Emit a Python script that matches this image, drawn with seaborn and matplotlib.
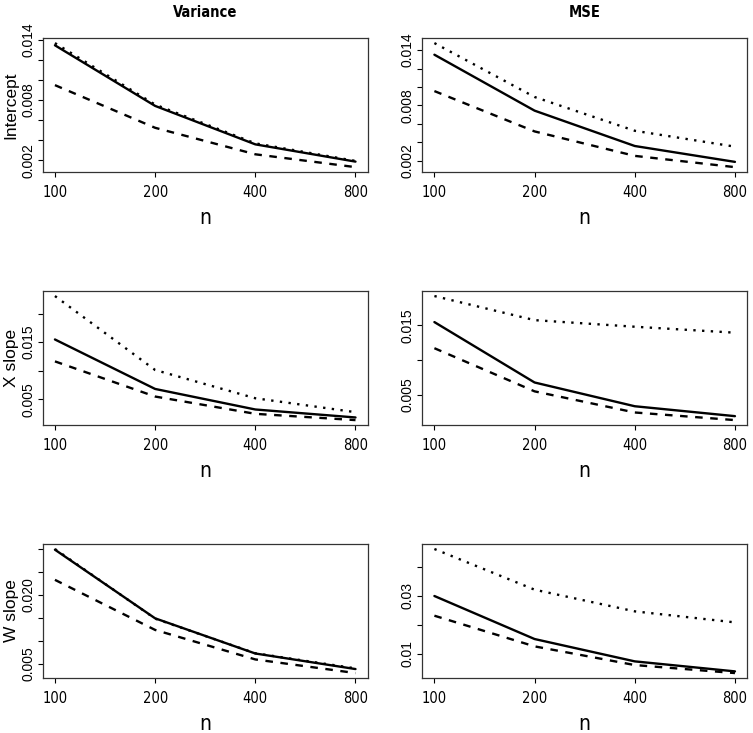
import pandas as pd
import matplotlib
matplotlib.use("Agg")
import matplotlib.pyplot as plt
import seaborn as sns

# sample sizes on the x axis
n = [100, 200, 400, 800]

# estimated values (solid / dashed / dotted lines)
var_int_solid = [0.01345, 0.00741, 0.00358, 0.00186]
var_int_dashed = [0.00948, 0.00523, 0.00259, 0.00131]
var_int_dotted = [0.01367, 0.00754, 0.00368, 0.00193]

mse_int_solid = [0.0135, 0.00744, 0.00361, 0.00189]
mse_int_dashed = [0.00956, 0.00519, 0.00254, 0.00132]
mse_int_dotted = [0.01476, 0.00892, 0.00526, 0.00354]

var_x_solid = [0.01547, 0.0068, 0.0032, 0.0018]
var_x_dashed = [0.01163, 0.00547, 0.00244, 0.00134]
var_x_dotted = [0.02308, 0.01012, 0.00517, 0.00273]

mse_x_solid = [0.01548, 0.00676, 0.00333, 0.0019]
mse_x_dashed = [0.01171, 0.00548, 0.00243, 0.00133]
mse_x_dotted = [0.01924, 0.01576, 0.01481, 0.01395]

var_w_solid = [0.02978, 0.01487, 0.00723, 0.00385]
var_w_dashed = [0.02323, 0.01235, 0.00594, 0.00298]
var_w_dotted = [0.02993, 0.0148, 0.00728, 0.004]

mse_w_solid = [0.02989, 0.01506, 0.00736, 0.00391]
mse_w_dashed = [0.0231, 0.01253, 0.00609, 0.00333]
mse_w_dotted = [0.04609, 0.03207, 0.0246, 0.0208]

col_titles = ["Variance", "MSE"]
row_labels = ["Intercept", "X slope", "W slope"]

# y ticks and which of them get a label (R drops the crowded ones)
int_ticks = [0.002, 0.004, 0.006, 0.008, 0.010, 0.012, 0.014]
int_labels = ["0.002", "", "", "0.008", "", "", "0.014"]
var_x_ticks = [0.005, 0.010, 0.015, 0.020]
var_x_labels = ["0.005", "", "0.015", ""]
mse_x_ticks = [0.005, 0.010, 0.015]
mse_x_labels = ["0.005", "", "0.015"]
var_w_ticks = [0.005, 0.010, 0.015, 0.020, 0.025, 0.030]
var_w_labels = ["0.005", "", "", "0.020", "", ""]
mse_w_ticks = [0.01, 0.02, 0.03, 0.04]
mse_w_labels = ["0.01", "", "0.03", ""]

panels = [
    [(var_int_solid, var_int_dashed, var_int_dotted, int_ticks, int_labels),
     (mse_int_solid, mse_int_dashed, mse_int_dotted, int_ticks, int_labels)],
    [(var_x_solid, var_x_dashed, var_x_dotted, var_x_ticks, var_x_labels),
     (mse_x_solid, mse_x_dashed, mse_x_dotted, mse_x_ticks, mse_x_labels)],
    [(var_w_solid, var_w_dashed, var_w_dotted, var_w_ticks, var_w_labels),
     (mse_w_solid, mse_w_dashed, mse_w_dotted, mse_w_ticks, mse_w_labels)],
]

sns.set_style("ticks")
plt.rcParams["font.family"] = ["Liberation Sans", "DejaVu Sans"]
plt.rcParams["text.color"] = "black"
plt.rcParams["axes.labelcolor"] = "black"
plt.rcParams["xtick.color"] = "black"
plt.rcParams["ytick.color"] = "black"
# narrow look for the x axis text and the column titles
narrow = dict(fontfamily="DejaVu Sans", fontstretch="condensed")

dash_map = {"solid": "", "dashed": (3.2, 3.2), "dotted": (1.0, 2.7)}

fig, axes = plt.subplots(3, 2, figsize=(7.53, 7.33), dpi=100)
plt.subplots_adjust(left=0.057, right=0.992, top=0.948, bottom=0.075,
                    wspace=0.169, hspace=0.888)

for i in range(3):
    for j in range(2):
        ax = axes[i, j]
        solid, dashed, dotted, yt, ytl = panels[i][j]
        df = pd.DataFrame({
            "n": n * 3,
            "value": solid + dashed + dotted,
            "line": ["solid"] * 4 + ["dashed"] * 4 + ["dotted"] * 4,
        })
        sns.lineplot(data=df, x="n", y="value", style="line", dashes=dash_map,
                     color="black", linewidth=1.7, ax=ax, legend=False)
        ax.set_xscale("log", base=2)
        ax.margins(x=0.04, y=0.04)
        ax.set_xticks(n)
        ax.set_xticklabels([str(v) for v in n], fontsize=10.5, **narrow)
        ax.minorticks_off()
        ax.set_yticks(yt)
        ax.set_yticklabels(ytl, fontsize=10)
        plt.setp(ax.get_yticklabels(), rotation=90, va="center")
        ax.tick_params(length=3.5, width=0.8, pad=5.5)
        ax.tick_params(axis="y", pad=2)
        for s in ax.spines.values():
            s.set_visible(True)
            s.set_linewidth(0.9)
            s.set_color("#333333")
        ax.set_xlabel("n", fontsize=15, labelpad=6, **narrow)
        if j == 0:
            ax.set_ylabel(row_labels[i], fontsize=12.5, labelpad=2)
        else:
            ax.set_ylabel("")
        if i == 0:
            ax.set_title(col_titles[j], fontweight="bold", fontsize=10.5,
                         pad=15, **narrow)

fig.savefig("out.png", dpi=100, facecolor="white")
